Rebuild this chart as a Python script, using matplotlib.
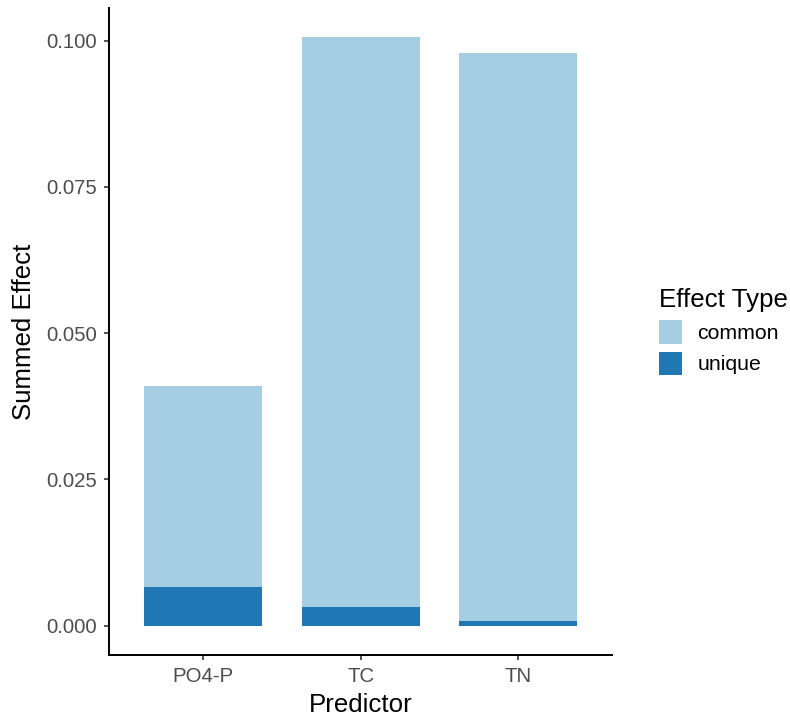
import matplotlib
matplotlib.use("Agg")
import matplotlib.pyplot as plt
from matplotlib.patches import Patch

plt.rcParams['font.family'] = ['Liberation Sans', 'DejaVu Sans']

predictors = ["PO4-P", "TC", "TN"]
unique_effect = [0.0066, 0.0032, 0.0007]
common_effect = [0.0344, 0.0974, 0.0972]
effect_types = ["common", "unique"]
colors = {"common": "#A6CEE3", "unique": "#1F78B4"}

fig = plt.figure(figsize=(7.9, 7.17), dpi=100)
ax = fig.add_axes([0.138, 0.0865, 0.637, 0.9025])

x = list(range(1, len(predictors) + 1))
ax.bar(x, unique_effect, width=0.75, color=colors["unique"], linewidth=0)
ax.bar(x, common_effect, width=0.75, bottom=unique_effect,
       color=colors["common"], linewidth=0)

totals = [u + c for u, c in zip(unique_effect, common_effect)]
ymax = max(totals)
ax.set_ylim(-0.05 * ymax, 1.05 * ymax)
ax.set_xlim(0.4, len(predictors) + 0.6)

ax.set_xticks(x)
ax.set_xticklabels(predictors)
ax.set_yticks([0.0, 0.025, 0.05, 0.075, 0.1])
ax.set_yticklabels(["0.000", "0.025", "0.050", "0.075", "0.100"])

for side in ["top", "right"]:
    ax.spines[side].set_visible(False)
for side in ["left", "bottom"]:
    ax.spines[side].set_linewidth(1.4)
    ax.spines[side].set_color("black")

ax.tick_params(axis="both", colors="#333333", labelcolor="#4D4D4D",
               labelsize=14.7, length=3.8, width=1.2, pad=5)

ax.set_xlabel("Predictor", fontsize=18.6, color="black", labelpad=5)
ax.set_ylabel("Summed Effect", fontsize=18.6, color="black", labelpad=7)

handles = [Patch(facecolor=colors[t], edgecolor="none") for t in effect_types]
leg = fig.legend(handles, effect_types, title="Effect Type",
                 loc="upper left", bbox_to_anchor=(0.815, 0.619),
                 frameon=False, fontsize=15.3, title_fontsize=18.6,
                 handlelength=1.1, handleheight=1.3, handletextpad=0.72,
                 labelspacing=0.38, borderpad=0.2)
leg._legend_box.align = "left"
leg._legend_box.sep = 6

fig.savefig("out.png", dpi=100)
